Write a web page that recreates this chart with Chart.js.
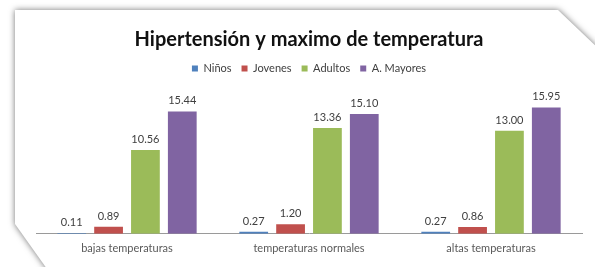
<!DOCTYPE html>
<html>
<head>
<meta charset="utf-8">
<script src="https://cdn.jsdelivr.net/npm/chart.js@4/dist/chart.umd.min.js"></script>
<style>
  html, body { margin: 0; padding: 0; background: #fff; }
  #wrap { width: 595px; height: 267px; position: relative; }
</style>
</head>
<body>
<div id="wrap"><canvas id="chart"></canvas></div>
<script>
const categories = ["bajas temperaturas", "temperaturas normales", "altas temperaturas"];
const ninos = [0.11, 0.27, 0.27];
const jovenes = [0.89, 1.2, 0.86];
const adultos = [10.56, 13.36, 13.0];
const mayores = [15.44, 15.1, 15.95];

const FONT = "Lato, 'Open Sans', sans-serif";

// white sheet with folded corners and soft shadow behind the chart
const paperPlugin = {
  id: "paper",
  beforeDraw: (chart) => {
    const ctx = chart.ctx;
    ctx.save();
    ctx.fillStyle = "#fff";
    ctx.fillRect(0, 0, chart.width, chart.height);
    ctx.shadowColor = "rgba(0,0,0,0.55)";
    ctx.shadowBlur = 6;
    ctx.beginPath();
    ctx.moveTo(15, 10);
    ctx.lineTo(558, 10);
    ctx.lineTo(602, 52);
    ctx.lineTo(602, 290);
    ctx.lineTo(62, 290);
    ctx.lineTo(15, 224);
    ctx.closePath();
    ctx.fill();
    ctx.restore();
  },
};

const valueLabels = {
  id: "valueLabels",
  afterDatasetsDraw: (chart) => {
    const ctx = chart.ctx;
    ctx.save();
    ctx.font = `11px ${FONT}`;
    ctx.fillStyle = "#404040";
    ctx.textAlign = "center";
    ctx.textBaseline = "bottom";
    chart.data.datasets.forEach((ds, i) => {
      chart.getDatasetMeta(i).data.forEach((bar, j) => {
        ctx.fillText(ds.data[j].toFixed(2), bar.x, bar.y - 5);
      });
    });
    ctx.restore();
  },
};

const mkSet = (label, data, color) => ({
  label,
  data,
  backgroundColor: color,
  borderWidth: 0,
  barPercentage: 0.78,
  categoryPercentage: 0.81,
});

new Chart(document.getElementById("chart"), {
  type: "bar",
  data: {
    labels: categories,
    datasets: [
      mkSet("Niños", ninos, "#4F81BD"),
      mkSet("Jovenes", jovenes, "#C0504D"),
      mkSet("Adultos", adultos, "#9BBB59"),
      mkSet("A. Mayores", mayores, "#8064A2"),
    ],
  },
  plugins: [paperPlugin, valueLabels],
  options: {
    responsive: true,
    maintainAspectRatio: false,
    animation: false,
    layout: { padding: { left: 36, right: 13, top: 0, bottom: 4 } },
    plugins: {
      title: {
        display: true,
        text: "Hipertensión y maximo de temperatura",
        color: "#111",
        padding: { top: 28, bottom: 1 },
        font: { family: FONT, size: 20, weight: "bold" },
      },
      legend: {
        position: "top",
        labels: {
          color: "#404040",
          boxWidth: 6,
          boxHeight: 6,
          padding: 10,
          font: { family: FONT, size: 11 },
        },
      },
      tooltip: { enabled: false },
    },
    scales: {
      x: {
        grid: { display: false, drawTicks: false },
        border: { display: true, color: "#9a9a9a", width: 1 },
        ticks: {
          color: "#595959",
          padding: 8,
          font: { family: FONT, size: 11 },
        },
      },
      y: {
        display: false,
        min: 0,
        max: 18.9,
      },
    },
  },
});
</script>
</body>
</html>
